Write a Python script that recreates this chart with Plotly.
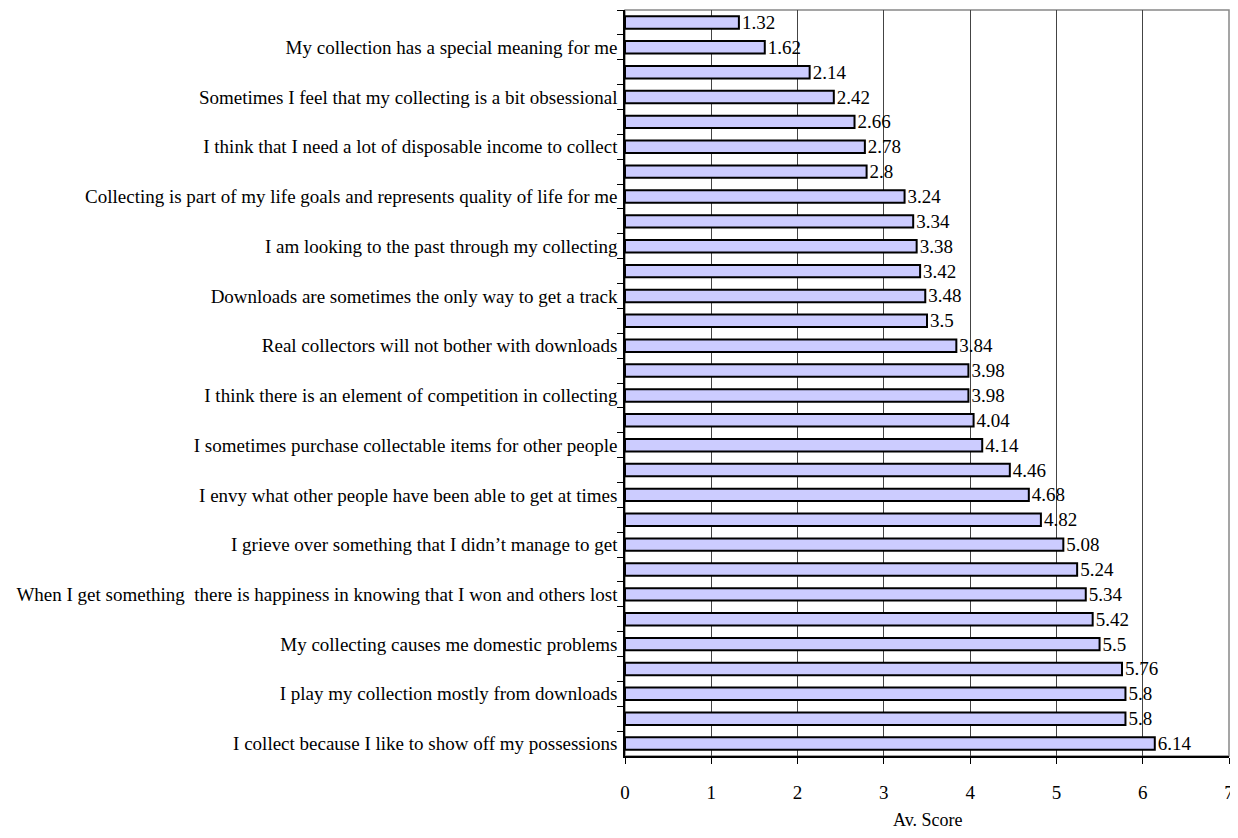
import plotly.graph_objects as go

labels = [
    "", "My collection has a special meaning for me",
    "", "Sometimes I feel that my collecting is a bit obsessional",
    "", "I think that I need a lot of disposable income to collect",
    "", "Collecting is part of my life goals and represents quality of life for me",
    "", "I am looking to the past through my collecting",
    "", "Downloads are sometimes the only way to get a track",
    "", "Real collectors will not bother with downloads",
    "", "I think there is an element of competition in collecting",
    "", "I sometimes purchase collectable items for other people",
    "", "I envy what other people have been able to get at times",
    "", "I grieve over something that I didn\u2019t manage to get",
    "", "When I get something  there is happiness in knowing that I won and others lost",
    "", "My collecting causes me domestic problems",
    "", "I play my collection mostly from downloads",
    "", "I collect because I like to show off my possessions",
]
values = [1.32, 1.62, 2.14, 2.42, 2.66, 2.78, 2.8, 3.24, 3.34, 3.38,
          3.42, 3.48, 3.5, 3.84, 3.98, 3.98, 4.04, 4.14, 4.46, 4.68,
          4.82, 5.08, 5.24, 5.34, 5.42, 5.5, 5.76, 5.8, 5.8, 6.14]
x_ticks = [0, 1, 2, 3, 4, 5, 6, 7]
x_title = "Av. Score"

# unique category names (blank ones padded with distinct zero-width chars)
cats = []
for i, lab in enumerate(labels):
    cats.append(lab if lab else "\u200b" * (i + 1))

font = "Liberation Serif, Times New Roman, serif"
FS = 19

fig = go.Figure(go.Bar(
    x=values, y=cats, orientation="h",
    marker=dict(color="#CCCCFF", line=dict(color="#000000", width=2)),
    width=0.5,
    text=[str(v) for v in values], textposition="outside",
    textfont=dict(family=font, size=FS, color="#000"),
    constraintext="none",
    cliponaxis=False,
))

fig.update_layout(
    width=1222, height=822,
    margin=dict(l=617, r=1, t=2, b=74, autoexpand=False),
    plot_bgcolor="white", paper_bgcolor="white",
    showlegend=False,
    font=dict(family=font, size=FS, color="#000"),
    xaxis=dict(
        range=[0, 7], tickvals=x_ticks, showgrid=True, gridcolor="#444", gridwidth=1,
        showline=True, linecolor="#000", linewidth=1.5,
        ticks="outside", ticklen=6, tickcolor="#000",
        ticklabelstandoff=12, zeroline=False, automargin=False,
        ticklabeloverflow="allow",
        tickfont=dict(size=FS),
    ),
    yaxis=dict(
        type="category", categoryorder="array", categoryarray=cats,
        autorange="reversed", showline=True, linecolor="#000", linewidth=1.5,
        ticks="outside", ticklen=6, tickcolor="#000", tickson="boundaries",
        showgrid=False, tickfont=dict(size=FS), ticklabelstandoff=2,
        automargin=False,
    ),
)

fig.add_annotation(text=x_title, xref="paper", yref="paper", x=0.5, y=0,
                   yshift=-64, yanchor="middle", showarrow=False,
                   font=dict(family=font, size=18, color="#000"))

fig.add_shape(type="rect", xref="paper", yref="paper", x0=0, x1=1, y0=0, y1=1,
              line=dict(color="#888", width=1.5), layer="below")

fig.write_html("out.html")
